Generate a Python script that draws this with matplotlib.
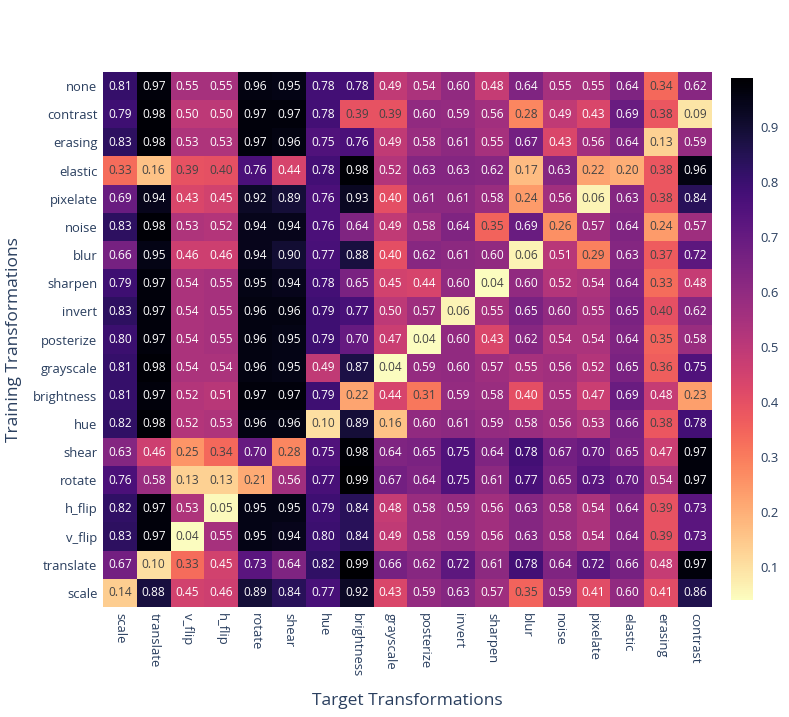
import numpy as np
import matplotlib
matplotlib.use("Agg")
import matplotlib.pyplot as plt

plt.rcParams['font.family'] = ['Open Sans', 'DejaVu Sans']

# rows = training transformation, columns = target transformation
train_labels = ['none', 'contrast', 'erasing', 'elastic', 'pixelate', 'noise', 'blur',
                'sharpen', 'invert', 'posterize', 'grayscale', 'brightness', 'hue',
                'shear', 'rotate', 'h_flip', 'v_flip', 'translate', 'scale']
target_labels = ['scale', 'translate', 'v_flip', 'h_flip', 'rotate', 'shear', 'hue',
                 'brightness', 'grayscale', 'posterize', 'invert', 'sharpen', 'blur',
                 'noise', 'pixelate', 'elastic', 'erasing', 'contrast']

none_row = [0.81, 0.97, 0.55, 0.55, 0.96, 0.95, 0.78, 0.78, 0.49, 0.54, 0.60, 0.48, 0.64, 0.55, 0.55, 0.64, 0.34, 0.62]
contrast_row = [0.79, 0.98, 0.50, 0.50, 0.97, 0.97, 0.78, 0.39, 0.39, 0.60, 0.59, 0.56, 0.28, 0.49, 0.43, 0.69, 0.38, 0.09]
erasing_row = [0.83, 0.98, 0.53, 0.53, 0.97, 0.96, 0.75, 0.76, 0.49, 0.58, 0.61, 0.55, 0.67, 0.43, 0.56, 0.64, 0.13, 0.59]
elastic_row = [0.33, 0.16, 0.39, 0.398, 0.76, 0.44, 0.78, 0.98, 0.52, 0.63, 0.63, 0.62, 0.17, 0.63, 0.22, 0.20, 0.38, 0.96]
pixelate_row = [0.69, 0.94, 0.43, 0.45, 0.92, 0.89, 0.76, 0.93, 0.40, 0.61, 0.61, 0.58, 0.24, 0.56, 0.06, 0.63, 0.38, 0.84]
noise_row = [0.83, 0.98, 0.53, 0.52, 0.94, 0.94, 0.76, 0.64, 0.49, 0.58, 0.64, 0.35, 0.69, 0.26, 0.57, 0.64, 0.24, 0.57]
blur_row = [0.66, 0.95, 0.46, 0.46, 0.94, 0.90, 0.77, 0.88, 0.40, 0.62, 0.61, 0.60, 0.06, 0.51, 0.29, 0.63, 0.37, 0.72]
sharpen_row = [0.79, 0.97, 0.54, 0.55, 0.95, 0.94, 0.78, 0.65, 0.45, 0.44, 0.60, 0.04, 0.60, 0.52, 0.54, 0.64, 0.33, 0.48]
invert_row = [0.83, 0.97, 0.54, 0.55, 0.96, 0.96, 0.79, 0.77, 0.50, 0.57, 0.06, 0.55, 0.65, 0.60, 0.55, 0.65, 0.398, 0.62]
posterize_row = [0.80, 0.97, 0.54, 0.55, 0.96, 0.95, 0.79, 0.70, 0.47, 0.04, 0.60, 0.43, 0.62, 0.54, 0.54, 0.64, 0.35, 0.58]
grayscale_row = [0.81, 0.98, 0.54, 0.54, 0.96, 0.95, 0.49, 0.87, 0.04, 0.59, 0.60, 0.57, 0.55, 0.56, 0.52, 0.65, 0.36, 0.75]
brightness_row = [0.81, 0.97, 0.52, 0.51, 0.97, 0.97, 0.79, 0.22, 0.44, 0.31, 0.59, 0.58, 0.40, 0.55, 0.47, 0.69, 0.48, 0.23]
hue_row = [0.82, 0.98, 0.52, 0.53, 0.96, 0.96, 0.10, 0.89, 0.16, 0.60, 0.61, 0.59, 0.58, 0.56, 0.53, 0.66, 0.38, 0.78]
shear_row = [0.63, 0.46, 0.25, 0.34, 0.70, 0.28, 0.75, 0.98, 0.64, 0.65, 0.75, 0.64, 0.78, 0.67, 0.70, 0.65, 0.47, 0.97]
rotate_row = [0.76, 0.58, 0.13, 0.13, 0.21, 0.56, 0.77, 0.99, 0.67, 0.64, 0.75, 0.61, 0.77, 0.65, 0.73, 0.70, 0.54, 0.97]
h_flip_row = [0.82, 0.97, 0.53, 0.05, 0.95, 0.95, 0.79, 0.84, 0.48, 0.58, 0.59, 0.56, 0.63, 0.58, 0.54, 0.64, 0.39, 0.73]
v_flip_row = [0.83, 0.97, 0.04, 0.55, 0.95, 0.94, 0.80, 0.84, 0.49, 0.58, 0.59, 0.56, 0.63, 0.58, 0.54, 0.64, 0.39, 0.73]
translate_row = [0.67, 0.10, 0.33, 0.45, 0.73, 0.64, 0.82, 0.99, 0.66, 0.62, 0.72, 0.61, 0.78, 0.64, 0.72, 0.66, 0.48, 0.97]
scale_row = [0.14, 0.88, 0.45, 0.46, 0.89, 0.84, 0.77, 0.92, 0.43, 0.59, 0.63, 0.57, 0.35, 0.59, 0.41, 0.60, 0.41, 0.86]

data = np.array([none_row, contrast_row, erasing_row, elastic_row, pixelate_row,
                 noise_row, blur_row, sharpen_row, invert_row, posterize_row,
                 grayscale_row, brightness_row, hue_row, shear_row, rotate_row,
                 h_flip_row, v_flip_row, translate_row, scale_row])

font_col = '#2a3f5f'
W, H = 789, 717

fig = plt.figure(figsize=(W / 100, H / 100), dpi=100)
ax = fig.add_axes([103 / W, 1 - 607 / H, (712 - 103) / W, (607 - 72) / H])
im = ax.imshow(data, cmap='magma_r', aspect='auto', vmin=data.min(), vmax=data.max(),
               interpolation='nearest')

for i in range(data.shape[0]):
    for j in range(data.shape[1]):
        v = data[i, j]
        c = '#444444' if v < 0.40 else 'white'
        ax.text(j, i, f'{v:.2f}', ha='center', va='center', fontsize=8.6, color=c)

ax.set_xticks(range(len(target_labels)))
ax.set_xticklabels(target_labels, rotation=-90, ha='center', va='top',
                   fontsize=9.4, color=font_col)
ax.set_yticks(range(len(train_labels)))
ax.set_yticklabels(train_labels, fontsize=9.4, color=font_col)
ax.tick_params(length=0, pad=4)
for s in ax.spines.values():
    s.set_visible(False)

ax.set_xlabel('Target Transformations', fontsize=12.5, color=font_col, labelpad=12)
ax.set_ylabel('Training Transformations', fontsize=12.5, color=font_col, labelpad=8)

cax = fig.add_axes([731 / W, 1 - 600 / H, 22 / W, 522 / H])
cb = fig.colorbar(im, cax=cax)
cb.outline.set_visible(False)
cb.set_ticks([0.1, 0.2, 0.3, 0.4, 0.5, 0.6, 0.7, 0.8, 0.9])
cb.ax.tick_params(length=0, pad=5, labelsize=9.4, labelcolor=font_col)

fig.savefig('out.png', dpi=100)
